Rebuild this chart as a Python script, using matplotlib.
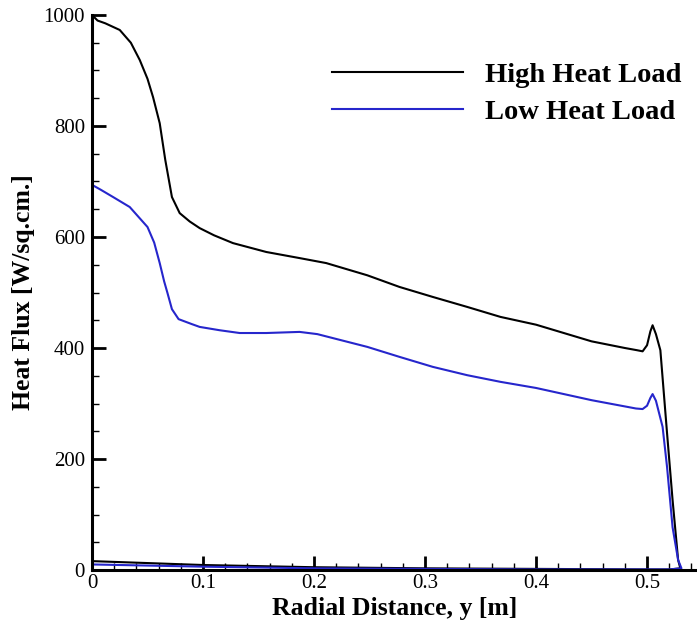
import matplotlib
matplotlib.use("Agg")
import matplotlib.pyplot as plt
from matplotlib.ticker import MultipleLocator

# === Data (outward along the surface, then back along the axis) ===
high_x = [0.0, 0.005, 0.012, 0.025, 0.035, 0.043, 0.050, 0.055, 0.061, 0.066,
          0.072, 0.079, 0.088, 0.097, 0.110, 0.127, 0.157, 0.187, 0.211, 0.248,
          0.277, 0.307, 0.338, 0.368, 0.400, 0.450, 0.480, 0.491, 0.496, 0.500,
          0.503, 0.505, 0.508, 0.512, 0.518, 0.523, 0.528, 0.530,
          0.520, 0.500, 0.400, 0.300, 0.200, 0.100, 0.0]
high_q = [1000, 990, 985, 973, 950, 919, 885, 852, 805, 739,
          672, 643, 628, 616, 603, 589, 573, 562, 553, 531,
          510, 492, 474, 456, 442, 412, 400, 396, 394, 405,
          430, 441, 425, 396, 247, 126, 18, 3,
          1, 1, 2, 3, 5, 9, 16]

low_x = [0.0, 0.008, 0.019, 0.034, 0.050, 0.056, 0.061, 0.065, 0.068, 0.072,
         0.078, 0.090, 0.097, 0.115, 0.133, 0.157, 0.187, 0.203, 0.248, 0.277,
         0.307, 0.338, 0.368, 0.400, 0.450, 0.490, 0.496, 0.500, 0.503, 0.505,
         0.508, 0.514, 0.518, 0.523, 0.528, 0.531,
         0.520, 0.500, 0.400, 0.300, 0.200, 0.100, 0.0]
low_q = [694, 685, 672, 654, 618, 590, 553, 520, 499, 470,
         452, 443, 438, 432, 427, 427, 429, 425, 402, 384,
         366, 351, 339, 328, 306, 291, 290, 296, 310, 317,
         305, 258, 186, 77, 18, 3,
         1, 1, 1, 2, 3, 6, 10]

labels = ["High Heat Load", "Low Heat Load"]

plt.rcParams["font.family"] = ["Liberation Serif", "DejaVu Serif"]

W, H = 697, 627
fig = plt.figure(figsize=(W / 100, H / 100), dpi=100)
ax = fig.add_axes([92 / W, 1 - 570 / H, 1 - 92 / W, (570 - 15) / H])

ax.plot(high_x, high_q, color="black", lw=1.5, label=labels[0])
ax.plot(low_x, low_q, color="#2626cc", lw=1.5, label=labels[1])

ax.set_xlim(0, 0.545)
ax.set_ylim(0, 1000)
ax.xaxis.set_major_locator(MultipleLocator(0.1))
ax.xaxis.set_minor_locator(MultipleLocator(0.02))
ax.yaxis.set_major_locator(MultipleLocator(200))
ax.yaxis.set_minor_locator(MultipleLocator(50))
ax.set_xticks([0, 0.1, 0.2, 0.3, 0.4, 0.5])
ax.set_xticklabels(["0", "0.1", "0.2", "0.3", "0.4", "0.5"])

ax.spines["top"].set_visible(False)
ax.spines["right"].set_visible(False)
ax.spines["left"].set_linewidth(2.2)
ax.spines["bottom"].set_linewidth(2.2)
ax.tick_params(which="major", direction="in", length=10, width=2, labelsize=15)
ax.tick_params(axis="x", which="major", pad=3)
ax.tick_params(axis="y", which="major", pad=5)
ax.tick_params(which="minor", direction="in", length=5, width=1)

ax.set_xlabel("Radial Distance, y [m]", fontsize=18.5, fontweight="bold", labelpad=3)
ax.set_ylabel("Heat Flux [W/sq.cm.]", fontsize=18.5, fontweight="bold")
ax.yaxis.set_label_coords(-0.094, 0.5)

ax.legend(loc="upper left", bbox_to_anchor=(332 / W, 1 - 62 / H), bbox_transform=fig.transFigure,
          frameon=False, prop={"weight": "bold", "size": 20.5}, handlelength=4.6,
          handletextpad=0.77, labelspacing=0.38, borderpad=0, borderaxespad=0)

fig.savefig("out.png", dpi=100)
